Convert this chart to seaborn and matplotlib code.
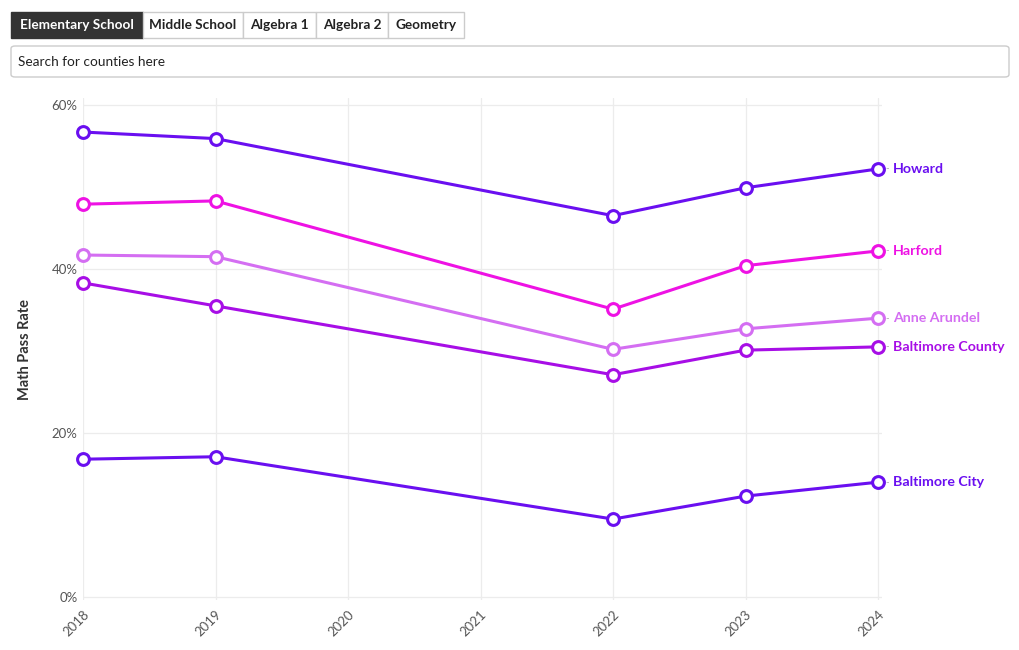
import numpy as np
import pandas as pd
import matplotlib
matplotlib.use("Agg")
import matplotlib.pyplot as plt
from matplotlib.patches import FancyBboxPatch, Rectangle
import seaborn as sns

years = [2018, 2019, 2022, 2023, 2024]
counties = ["Howard", "Harford", "Anne Arundel", "Baltimore County", "Baltimore City"]
howard = [56.7, 55.9, 46.5, 49.9, 52.2]
harford = [47.9, 48.3, 35.1, 40.4, 42.2]
anne_arundel = [41.7, 41.5, 30.2, 32.7, 34.0]
baltimore_county = [38.3, 35.5, 27.1, 30.1, 30.5]
baltimore_city = [16.8, 17.1, 9.5, 12.3, 14.0]
colors = ["#6a0ff0", "#ee12e4", "#d46ef2", "#a70ee6", "#6a0ff0"]
tabs = ["Elementary School", "Middle School", "Algebra 1", "Algebra 2", "Geometry"]
x_ticks = [2018, 2019, 2020, 2021, 2022, 2023, 2024]
y_ticks = [0, 20, 40, 60]

series = [howard, harford, anne_arundel, baltimore_county, baltimore_city]
df = pd.DataFrame({
    "year": years * len(counties),
    "rate": [v for s in series for v in s],
    "county": [c for c in counties for _ in years],
})

sns.set_theme(style="white")
plt.rcParams["font.family"] = ["Lato", "DejaVu Sans"]

W, H = 1020, 650
fig = plt.figure(figsize=(W / 100, H / 100), dpi=100)

def fx(px):
    return px / W

def fy(py):
    return 1 - py / H

# Tabs
tab_edges = [11, 143, 243, 316, 388, 464]
for i, t in enumerate(tabs):
    x0, x1 = tab_edges[i], tab_edges[i + 1]
    active = i == 0
    r = Rectangle((fx(x0), fy(38)), fx(x1 - x0), (38 - 12) / H,
                  transform=fig.transFigure,
                  facecolor="#333333" if active else "white",
                  edgecolor="#333333" if active else "#cccccc", linewidth=1)
    fig.add_artist(r)
    fig.text(fx((x0 + x1) / 2), fy(25), t, ha="center", va="center",
             fontsize=9.8, fontweight="bold",
             color="white" if active else "#222222")

# Search box
sb = FancyBboxPatch((fx(11), fy(77)), fx(1009 - 11), (77 - 46) / H,
                    boxstyle="round,pad=0,rounding_size=0.004",
                    transform=fig.transFigure, facecolor="white",
                    edgecolor="#cccccc", linewidth=1)
fig.add_artist(sb)
fig.text(fx(18), fy(62), "Search for counties here", ha="left", va="center",
         fontsize=9.8, color="#222222")

# Axes (slightly padded beyond data range, like the reference grid)
y_lo, y_hi = -0.37, 60.85
x_lo, x_hi = 2018, 2024.03
ax = fig.add_axes([fx(83), fy(600), fx(882 - 83), (600 - 98) / H])
palette = dict(zip(counties, colors))
sns.lineplot(data=df, x="year", y="rate", hue="county", hue_order=counties,
             palette=palette, marker="o", markersize=8.5,
             markerfacecolor="white", markeredgewidth=2.2,
             linewidth=2.2, legend=False, ax=ax, zorder=3)
for line in ax.lines:
    line.set_markeredgecolor(line.get_color())
    line.set_clip_on(False)

ax.set_xlim(x_lo, x_hi)
ax.set_ylim(y_lo, y_hi)
ax.set_xticks(x_ticks)
ax.set_xticklabels([str(x) for x in x_ticks], rotation=45, ha="right",
                   rotation_mode="anchor", fontsize=9.5, color="#555555")
ax.set_yticks(y_ticks)
ax.set_yticklabels([f"{v}%" for v in y_ticks], fontsize=9.5, color="#555555")
ax.tick_params(axis="both", length=0, pad=4)
ax.tick_params(axis="x", pad=6)
for s in ax.spines.values():
    s.set_visible(False)
ax.grid(True, color="#ececec", linewidth=0.9, zorder=0)
ax.set_axisbelow(True)
ax.set_xlabel("")
ax.set_ylabel("Math Pass Rate", fontsize=10.5, fontweight="bold", color="#333333",
              labelpad=14)

# Right-side labels
for name, vals, c in zip(counties, series, colors):
    ax.annotate(name, xy=(years[-1], vals[-1]), xytext=(10.5, 0),
                textcoords="offset points", ha="left", va="center",
                fontsize=10.2, fontweight="bold", color=c, annotation_clip=False)
    ax.annotate("-", xy=(years[-1], vals[-1]), xytext=(5.5, 0),
                textcoords="offset points", ha="left", va="center",
                fontsize=7, color="#aaaaaa", annotation_clip=False)

fig.savefig("out.png", dpi=100, facecolor="white")
